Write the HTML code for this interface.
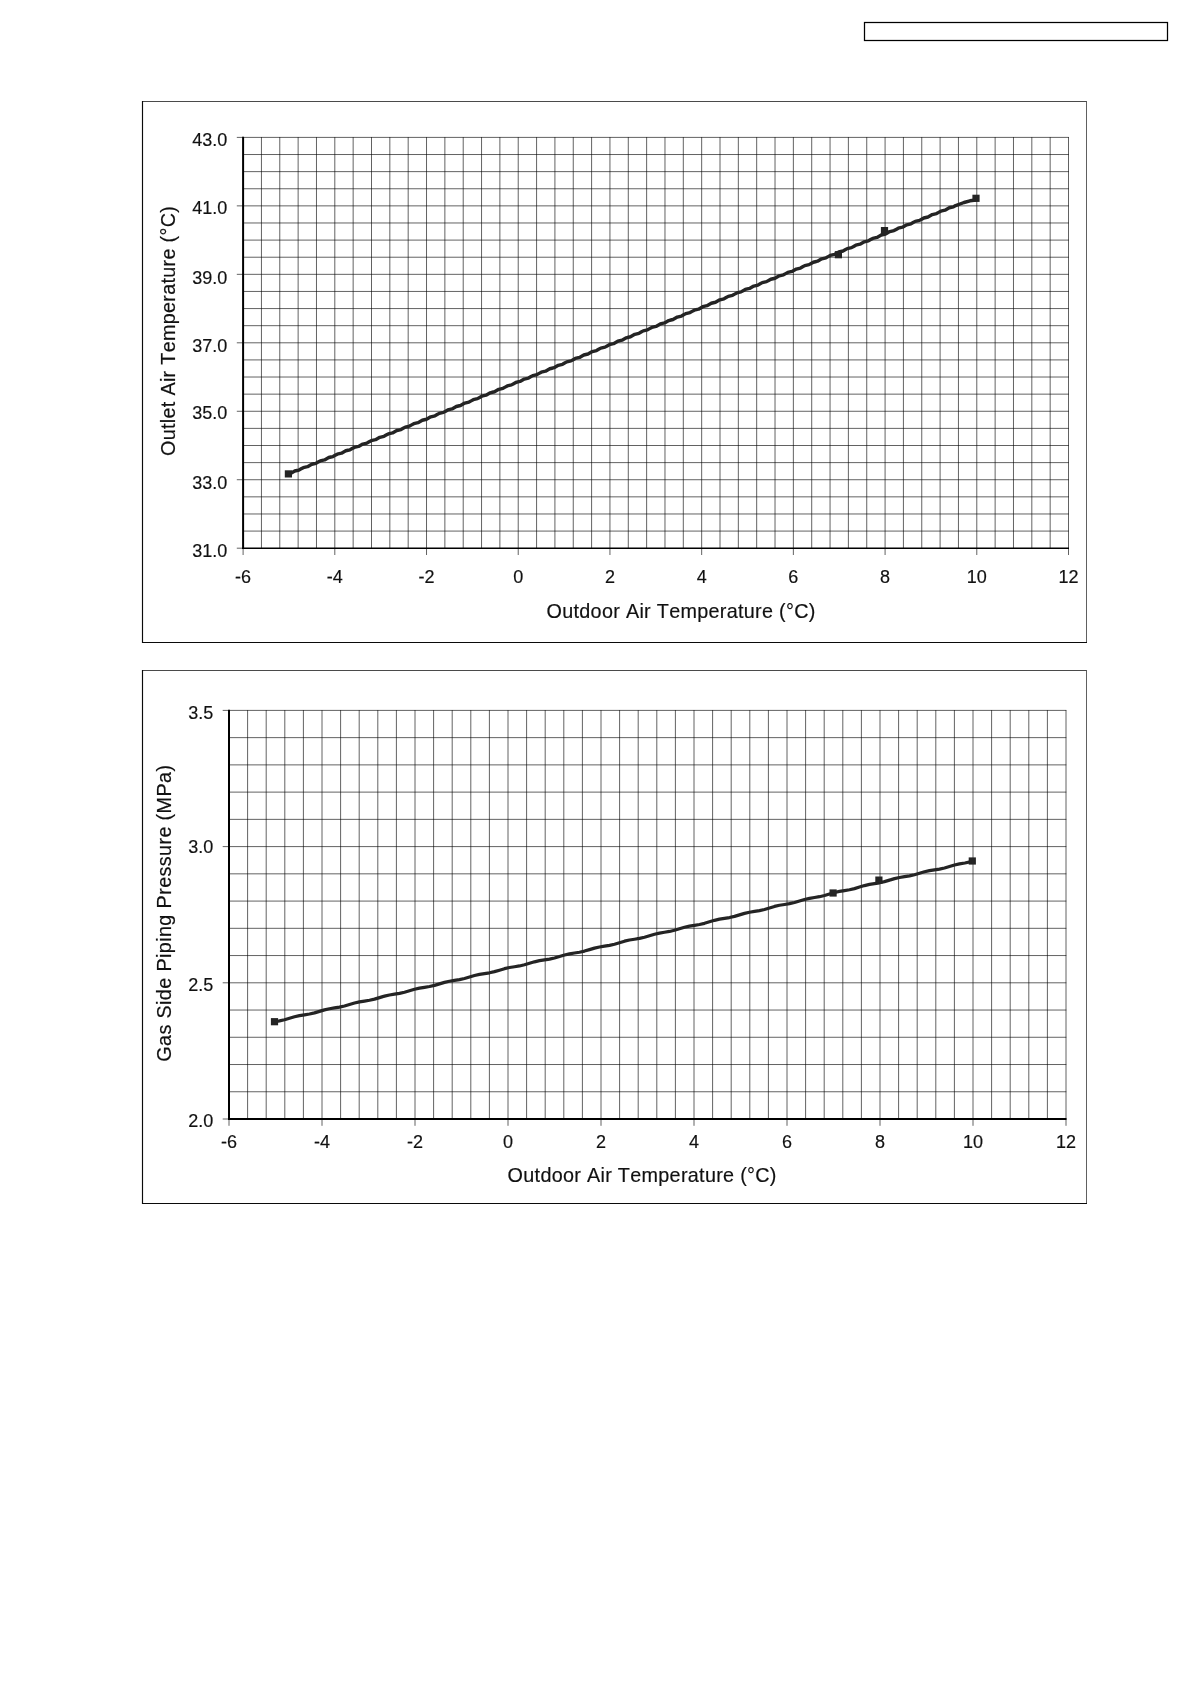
<!DOCTYPE html>
<html><head><meta charset="utf-8"><title>Charts</title>
<style>
html,body{margin:0;padding:0;background:#fff;}
body{width:1190px;height:1684px;overflow:hidden;position:relative;font-family:"Liberation Sans",sans-serif;}
svg{position:absolute;left:0;top:0;display:block;will-change:transform;}
text{font-family:"Liberation Sans",sans-serif;fill:#111;stroke:#111;stroke-width:0.18px;}
.t{font-kerning:none;letter-spacing:0.3px;}
</style></head><body>
<svg width="1190" height="1684" viewBox="0 0 1190 1684">
<rect x="864.5" y="22.5" width="303" height="18" fill="#fff" stroke="#000" stroke-width="1.25"/>
<path d="M142.5 101.5H1087.0" stroke="#4a4a4a" stroke-width="1" fill="none"/>
<path d="M1086.5 101.5V642.5" stroke="#606060" stroke-width="1" fill="none"/>
<path d="M142.5 101.0V642.5H1087.0" stroke="#0a0a0a" stroke-width="1.15" fill="none"/>
<path d="M261.44 137.1V548.2M279.78 137.1V548.2M298.13 137.1V548.2M316.47 137.1V548.2M334.81 137.1V548.2M353.15 137.1V548.2M371.5 137.1V548.2M389.84 137.1V548.2M408.18 137.1V548.2M426.52 137.1V548.2M444.86 137.1V548.2M463.21 137.1V548.2M481.55 137.1V548.2M499.89 137.1V548.2M518.23 137.1V548.2M536.58 137.1V548.2M554.92 137.1V548.2M573.26 137.1V548.2M591.6 137.1V548.2M609.94 137.1V548.2M628.29 137.1V548.2M646.63 137.1V548.2M664.97 137.1V548.2M683.31 137.1V548.2M701.66 137.1V548.2M720 137.1V548.2M738.34 137.1V548.2M756.68 137.1V548.2M775.02 137.1V548.2M793.37 137.1V548.2M811.71 137.1V548.2M830.05 137.1V548.2M848.39 137.1V548.2M866.74 137.1V548.2M885.08 137.1V548.2M903.42 137.1V548.2M921.76 137.1V548.2M940.1 137.1V548.2M958.45 137.1V548.2M976.79 137.1V548.2M995.13 137.1V548.2M1013.47 137.1V548.2M1031.82 137.1V548.2M1050.16 137.1V548.2M1068.5 137.1V548.2" stroke="#000" stroke-width="0.62" fill="none"/>
<path d="M243.1 137.4H1068.8M243.1 154.52H1068.8M243.1 171.63H1068.8M243.1 188.75H1068.8M243.1 205.87H1068.8M243.1 222.98H1068.8M243.1 240.1H1068.8M243.1 257.22H1068.8M243.1 274.33H1068.8M243.1 291.45H1068.8M243.1 308.57H1068.8M243.1 325.68H1068.8M243.1 342.8H1068.8M243.1 359.92H1068.8M243.1 377.03H1068.8M243.1 394.15H1068.8M243.1 411.27H1068.8M243.1 428.38H1068.8M243.1 445.5H1068.8M243.1 462.62H1068.8M243.1 479.73H1068.8M243.1 496.85H1068.8M243.1 513.97H1068.8M243.1 531.08H1068.8" stroke="#000" stroke-width="0.62" fill="none"/>
<path d="M243.1 548.2V555M334.81 548.2V555M426.52 548.2V555M518.23 548.2V555M609.94 548.2V555M701.66 548.2V555M793.37 548.2V555M885.08 548.2V555M976.79 548.2V555M1068.5 548.2V555M236.8 137.4H243.1M236.8 205.87H243.1M236.8 274.33H243.1M236.8 342.8H243.1M236.8 411.27H243.1M236.8 479.73H243.1M236.8 548.2H243.1" stroke="#000" stroke-width="0.62" fill="none"/>
<path d="M243.1 136.8V549" stroke="#000" stroke-width="2" fill="none"/>
<path d="M242.1 548.2H1069" stroke="#000" stroke-width="1.6" fill="none"/>
<text x="243.1" y="583.3" font-size="18" text-anchor="middle">-6</text>
<text x="334.81" y="583.3" font-size="18" text-anchor="middle">-4</text>
<text x="426.52" y="583.3" font-size="18" text-anchor="middle">-2</text>
<text x="518.23" y="583.3" font-size="18" text-anchor="middle">0</text>
<text x="609.94" y="583.3" font-size="18" text-anchor="middle">2</text>
<text x="701.66" y="583.3" font-size="18" text-anchor="middle">4</text>
<text x="793.37" y="583.3" font-size="18" text-anchor="middle">6</text>
<text x="885.08" y="583.3" font-size="18" text-anchor="middle">8</text>
<text x="976.79" y="583.3" font-size="18" text-anchor="middle">10</text>
<text x="1068.5" y="583.3" font-size="18" text-anchor="middle">12</text>
<text x="227.2" y="146.4" font-size="18" text-anchor="end">43.0</text>
<text x="227.2" y="214.4" font-size="18" text-anchor="end">41.0</text>
<text x="227.2" y="283.6" font-size="18" text-anchor="end">39.0</text>
<text x="227.2" y="351.7" font-size="18" text-anchor="end">37.0</text>
<text x="227.2" y="419.4" font-size="18" text-anchor="end">35.0</text>
<text x="227.2" y="488.8" font-size="18" text-anchor="end">33.0</text>
<text x="227.2" y="556.9" font-size="18" text-anchor="end">31.0</text>
<text x="681.1" y="617.6" font-size="19.8" text-anchor="middle" class="t">Outdoor Air Temperature (°C)</text>
<text transform="translate(174.9 330.9) rotate(-90)" font-size="19.8" text-anchor="middle" class="t">Outlet Air Temperature (°C)</text>
<polyline points="288.4,473.9 290.52,473.41 292.65,472.21 294.77,471.02 296.9,470.53 299.02,470.03 301.15,468.84 303.27,467.65 305.4,467.15 307.52,466.66 309.65,465.46 311.77,464.27 313.9,463.78 316.02,463.28 318.15,462.09 320.27,460.9 322.4,460.4 324.52,459.91 326.65,458.72 328.77,457.52 330.9,457.03 333.02,456.54 335.15,455.34 337.27,454.15 339.4,453.66 341.52,453.16 343.65,451.97 345.77,450.77 347.9,450.28 350.02,449.79 352.15,448.59 354.27,447.4 356.4,446.91 358.52,446.41 360.65,445.22 362.77,444.03 364.9,443.53 367.02,443.04 369.15,441.85 371.27,440.65 373.4,440.16 375.52,439.67 377.65,438.47 379.77,437.28 381.9,436.78 384.02,436.29 386.15,435.1 388.27,433.9 390.4,433.41 392.52,432.92 394.65,431.72 396.77,430.53 398.9,430.04 401.02,429.54 403.15,428.33 405.27,427.12 407.4,426.61 409.52,426.1 411.65,424.89 413.77,423.68 415.9,423.18 418.02,422.67 420.15,421.46 422.27,420.25 424.4,419.74 426.52,419.23 428.65,418.03 430.77,416.82 432.9,416.31 435.02,415.8 437.15,414.59 439.27,413.38 441.4,412.87 443.52,412.37 445.65,411.16 447.77,409.95 449.9,409.44 452.02,408.93 454.15,407.72 456.27,406.51 458.4,406.01 460.52,405.5 462.65,404.29 464.77,403.08 466.9,402.57 469.02,402.06 471.15,400.86 473.27,399.65 475.4,399.14 477.52,398.63 479.65,397.42 481.77,396.21 483.9,395.7 486.02,395.2 488.15,393.99 490.27,392.78 492.4,392.27 494.52,391.76 496.65,390.55 498.77,389.34 500.9,388.84 503.02,388.33 505.15,387.12 507.27,385.91 509.4,385.4 511.52,384.89 513.65,383.69 515.77,382.48 517.9,381.97 520.02,381.46 522.15,380.25 524.27,379.04 526.4,378.53 528.52,378.03 530.65,376.82 532.77,375.61 534.9,375.1 537.02,374.59 539.15,373.38 541.27,372.17 543.4,371.67 545.52,371.16 547.65,369.95 549.77,368.74 551.9,368.23 554.02,367.72 556.15,366.52 558.27,365.31 560.4,364.8 562.52,364.29 564.65,363.08 566.77,361.87 568.9,361.36 571.02,360.86 573.15,359.65 575.27,358.44 577.4,357.93 579.52,357.42 581.65,356.21 583.77,355 585.9,354.5 588.02,353.99 590.15,352.78 592.27,351.57 594.4,351.06 596.52,350.55 598.65,349.35 600.77,348.14 602.9,347.62 605.02,347.11 607.15,345.9 609.27,344.68 611.4,344.17 613.52,343.66 615.65,342.45 617.77,341.23 619.9,340.72 622.02,340.21 624.15,339 626.27,337.78 628.4,337.27 630.52,336.76 632.65,335.54 634.77,334.33 636.9,333.82 639.02,333.31 641.15,332.09 643.27,330.88 645.4,330.37 647.52,329.85 649.65,328.64 651.77,327.43 653.9,326.92 656.02,326.4 658.15,325.19 660.27,323.98 662.4,323.47 664.52,322.95 666.65,321.74 668.77,320.53 670.9,320.01 673.02,319.5 675.15,318.29 677.27,317.08 679.4,316.56 681.52,316.05 683.65,314.84 685.77,313.63 687.9,313.11 690.02,312.6 692.15,311.39 694.27,310.17 696.4,309.66 698.52,309.15 700.65,307.94 702.77,306.72 704.9,306.21 707.02,305.7 709.15,304.49 711.27,303.27 713.4,302.76 715.52,302.25 717.65,301.03 719.77,299.82 721.9,299.31 724.02,298.8 726.15,297.58 728.27,296.37 730.4,295.86 732.52,295.34 734.65,294.13 736.77,292.92 738.9,292.41 741.02,291.89 743.15,290.68 745.27,289.47 747.4,288.96 749.52,288.44 751.65,287.24 753.77,286.04 755.9,285.54 758.02,285.04 760.15,283.84 762.27,282.64 764.4,282.14 766.52,281.64 768.65,280.43 770.77,279.23 772.9,278.73 775.02,278.23 777.15,277.03 779.27,275.83 781.4,275.33 783.52,274.83 785.65,273.63 787.77,272.43 789.9,271.93 792.02,271.43 794.15,270.23 796.27,269.03 798.4,268.53 800.52,268.03 802.65,266.82 804.77,265.62 806.9,265.12 809.02,264.62 811.15,263.42 813.27,262.22 815.4,261.72 817.52,261.22 819.65,260.02 821.77,258.82 823.9,258.32 826.02,257.82 828.15,256.62 830.27,255.42 832.4,254.92 834.52,254.42 836.65,253.21 838.77,252.01 840.9,251.51 843.02,251.01 845.15,249.81 847.27,248.61 849.4,248.11 851.52,247.61 853.65,246.41 855.77,245.21 857.9,244.71 860.02,244.21 862.15,243.01 864.27,241.81 866.4,241.31 868.52,240.81 870.65,239.6 872.77,238.4 874.9,237.9 877.02,237.4 879.15,236.2 881.27,235 883.4,234.5 885.52,234 887.65,232.8 889.77,231.6 891.9,231.1 894.02,230.6 896.15,229.4 898.27,228.2 900.4,227.7 902.52,227.2 904.65,225.99 906.77,224.79 908.9,224.29 911.02,223.79 913.15,222.59 915.27,221.39 917.4,220.89 919.52,220.39 921.65,219.19 923.77,217.99 925.9,217.49 928.02,216.99 930.15,215.79 932.27,214.59 934.4,214.09 936.52,213.59 938.65,212.38 940.77,211.18 942.9,210.68 945.02,210.18 947.15,208.98 949.27,207.78 951.4,207.28 953.52,206.78 955.65,205.58 964,202.5 970,200.8 976,200" stroke="#242424" stroke-width="3.4" fill="none" stroke-linejoin="round" stroke-linecap="round"/>
<rect x="284.8" y="470.3" width="7.2" height="7.2" fill="#242424"/>
<rect x="834.8" y="251.1" width="7.2" height="7.2" fill="#242424"/>
<rect x="880.9" y="227" width="7.2" height="7.2" fill="#242424"/>
<rect x="972.4" y="194.7" width="7.2" height="7.2" fill="#242424"/>
<path d="M142.5 670.5H1087.0" stroke="#4a4a4a" stroke-width="1" fill="none"/>
<path d="M1086.5 670.5V1203.5" stroke="#606060" stroke-width="1" fill="none"/>
<path d="M142.5 670.0V1203.5H1087.0" stroke="#0a0a0a" stroke-width="1.15" fill="none"/>
<path d="M247.6 710.1V1119M266.2 710.1V1119M284.8 710.1V1119M303.4 710.1V1119M322 710.1V1119M340.6 710.1V1119M359.2 710.1V1119M377.8 710.1V1119M396.4 710.1V1119M415 710.1V1119M433.6 710.1V1119M452.2 710.1V1119M470.8 710.1V1119M489.4 710.1V1119M508 710.1V1119M526.6 710.1V1119M545.2 710.1V1119M563.8 710.1V1119M582.4 710.1V1119M601 710.1V1119M619.6 710.1V1119M638.2 710.1V1119M656.8 710.1V1119M675.4 710.1V1119M694 710.1V1119M712.6 710.1V1119M731.2 710.1V1119M749.8 710.1V1119M768.4 710.1V1119M787 710.1V1119M805.6 710.1V1119M824.2 710.1V1119M842.8 710.1V1119M861.4 710.1V1119M880 710.1V1119M898.6 710.1V1119M917.2 710.1V1119M935.8 710.1V1119M954.4 710.1V1119M973 710.1V1119M991.6 710.1V1119M1010.2 710.1V1119M1028.8 710.1V1119M1047.4 710.1V1119M1066 710.1V1119" stroke="#000" stroke-width="0.62" fill="none"/>
<path d="M229 710.4H1066.3M229 737.64H1066.3M229 764.88H1066.3M229 792.12H1066.3M229 819.36H1066.3M229 846.6H1066.3M229 873.84H1066.3M229 901.08H1066.3M229 928.32H1066.3M229 955.56H1066.3M229 982.8H1066.3M229 1010.04H1066.3M229 1037.28H1066.3M229 1064.52H1066.3M229 1091.76H1066.3" stroke="#000" stroke-width="0.62" fill="none"/>
<path d="M229 1119V1125.8M322 1119V1125.8M415 1119V1125.8M508 1119V1125.8M601 1119V1125.8M694 1119V1125.8M787 1119V1125.8M880 1119V1125.8M973 1119V1125.8M1066 1119V1125.8M222.7 710.4H229M222.7 846.6H229M222.7 982.8H229M222.7 1119H229" stroke="#000" stroke-width="0.62" fill="none"/>
<path d="M229 709.8V1119.9" stroke="#000" stroke-width="2.0" fill="none"/>
<path d="M228 1119H1066.5" stroke="#000" stroke-width="1.8" fill="none"/>
<text x="229" y="1147.8" font-size="18" text-anchor="middle">-6</text>
<text x="322" y="1147.8" font-size="18" text-anchor="middle">-4</text>
<text x="415" y="1147.8" font-size="18" text-anchor="middle">-2</text>
<text x="508" y="1147.8" font-size="18" text-anchor="middle">0</text>
<text x="601" y="1147.8" font-size="18" text-anchor="middle">2</text>
<text x="694" y="1147.8" font-size="18" text-anchor="middle">4</text>
<text x="787" y="1147.8" font-size="18" text-anchor="middle">6</text>
<text x="880" y="1147.8" font-size="18" text-anchor="middle">8</text>
<text x="973" y="1147.8" font-size="18" text-anchor="middle">10</text>
<text x="1066" y="1147.8" font-size="18" text-anchor="middle">12</text>
<text x="213.4" y="718.5" font-size="18" text-anchor="end">3.5</text>
<text x="213.4" y="853.4" font-size="18" text-anchor="end">3.0</text>
<text x="213.4" y="991.4" font-size="18" text-anchor="end">2.5</text>
<text x="213.4" y="1126.5" font-size="18" text-anchor="end">2.0</text>
<text x="642.2" y="1182" font-size="19.8" text-anchor="middle" class="t">Outdoor Air Temperature (°C)</text>
<text transform="translate(171.3 913.2) rotate(-90)" font-size="19.8" text-anchor="middle" class="t" style="letter-spacing:0.375px">Gas Side Piping Pressure (MPa)</text>
<polyline points="274.5,1021.7 279.5,1020.9 284.5,1019.75 289.5,1018.26 294.5,1016.76 299.5,1015.62 304.5,1014.82 309.5,1014.01 314.5,1012.87 319.5,1011.37 324.5,1009.88 329.5,1008.73 334.5,1007.93 339.5,1007.13 344.5,1005.98 349.5,1004.49 354.5,1003 359.5,1001.85 364.5,1001.05 369.5,1000.25 374.5,999.1 379.5,997.6 384.5,996.11 389.5,994.96 394.5,994.16 399.5,993.36 404.5,992.22 409.5,990.73 414.5,989.24 419.5,988.1 424.5,987.3 429.5,986.51 434.5,985.36 439.5,983.87 444.5,982.39 449.5,981.24 454.5,980.45 459.5,979.65 464.5,978.51 469.5,977.02 474.5,975.53 479.5,974.39 484.5,973.59 489.5,972.8 494.5,971.65 499.5,970.16 504.5,968.68 509.5,967.53 514.5,966.74 519.5,965.94 524.5,964.8 529.5,963.31 534.5,961.82 539.5,960.68 544.5,959.88 549.5,959.09 554.5,957.94 559.5,956.45 564.5,954.97 569.5,953.82 574.5,953.03 579.5,952.23 584.5,951.09 589.5,949.6 594.5,948.11 599.5,946.97 604.5,946.16 609.5,945.35 614.5,944.19 619.5,942.68 624.5,941.18 629.5,940.02 634.5,939.21 639.5,938.4 644.5,937.24 649.5,935.73 654.5,934.23 659.5,933.07 664.5,932.26 669.5,931.45 674.5,930.29 679.5,928.78 684.5,927.28 689.5,926.12 694.5,925.31 699.5,924.5 704.5,923.34 709.5,921.83 714.5,920.33 719.5,919.17 724.5,918.36 729.5,917.55 734.5,916.39 739.5,914.88 744.5,913.38 749.5,912.22 754.5,911.41 759.5,910.6 764.5,909.44 769.5,907.93 774.5,906.43 779.5,905.27 784.5,904.46 789.5,903.65 794.5,902.49 799.5,900.99 804.5,899.48 809.5,898.32 814.5,897.51 819.5,896.7 824.5,895.54 829.5,894.04 834.5,892.53 839.5,891.38 844.5,890.57 849.5,889.75 854.5,888.6 859.5,887.09 864.5,885.59 869.5,884.43 874.5,883.62 879.5,882.81 884.5,881.65 889.5,880.15 894.5,878.64 899.5,877.48 904.5,876.67 909.5,875.86 914.5,874.73 919.5,873.25 924.5,871.78 929.5,870.65 934.5,869.87 939.5,869.08 944.5,867.95 949.5,866.48 954.5,865 959.5,863.87 964.9,863 972.3,861.4" stroke="#242424" stroke-width="3.2" fill="none" stroke-linejoin="round" stroke-linecap="round"/>
<rect x="270.9" y="1018.1" width="7.2" height="7.2" fill="#242424"/>
<rect x="829.5" y="889.4" width="7.2" height="7.2" fill="#242424"/>
<rect x="875.3" y="876.5" width="7.2" height="7.2" fill="#242424"/>
<rect x="968.7" y="857.4" width="7.2" height="7.2" fill="#242424"/>
</svg>
</body></html>
